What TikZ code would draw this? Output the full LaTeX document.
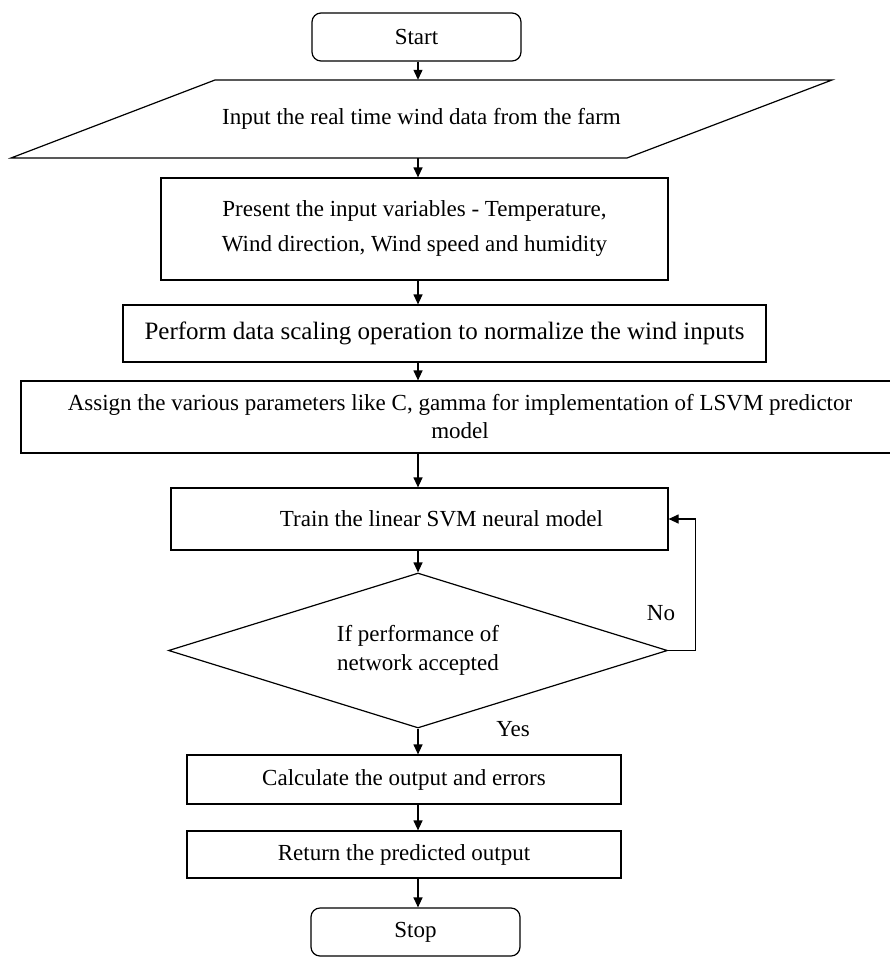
\documentclass[tikz,border=0pt]{standalone}
\usepackage{fontspec}
\setmainfont{Liberation Serif}
\usetikzlibrary{shapes.geometric, arrows.meta}

\begin{document}
\begin{tikzpicture}[x=1pt, y=-1pt, font=\fontsize{23}{35}\selectfont]
        \tikzstyle{term} = [draw, rectangle, rounded corners=9pt, line width=1.2pt, minimum width=209, minimum height=48]
        \tikzstyle{box} = [draw, rectangle, line width=1.2pt, align=center]
        \tikzstyle{decision} = [draw, diamond, aspect=3.2, inner sep=0pt, line width=1.2pt, minimum width=499, minimum height=155, align=center]
        \tikzstyle{flow} = [-{Triangle[length=10pt, width=9pt]}, line width=1.2pt]
        \clip (0,0) rectangle (890,958);
        \coordinate (col) at (418,0);
        \node[term] (start) at (416.5,37) {Start};
        % input parallelogram
        \node[minimum height=78] (input) at (421.5,119) {Input the real time wind data from the farm};
        \draw[line width=1.2pt] (215,80) -- (832,80) -- (627,158) -- (11,158) -- cycle;
        \node[box, minimum width=507, minimum height=102] (present) at (414.5,229) {Present the input variables - Temperature,\\Wind direction, Wind speed and humidity};
        \node[box, minimum width=643, minimum height=57, font=\fontsize{25}{30}\selectfont] (scale) at (444.5,333.5) {Perform data scaling operation to normalize the wind inputs};
        \node[box, minimum width=878, minimum height=72, font=\fontsize{23}{28}\selectfont] (assign) at (460,417) {Assign the various parameters like C, gamma for implementation of LSVM predictor\\model};
        \node[box, minimum width=497, minimum height=62] (train) at (419.5,519) {\hspace*{44pt}Train the linear SVM neural model};
        \node[decision, font=\fontsize{23}{29}\selectfont] (decide) at (418,650.5) {If performance of\\network accepted};
        \node[box, minimum width=434, minimum height=49] (calc) at (404,779.5) {Calculate the output and errors};
        \node[box, minimum width=434, minimum height=47] (ret) at (404,854.5) {Return the predicted output};
        \node[term] (stop) at (415.5,932) {Stop};
        \node (no) at (661,613) {No};
        \node (yes) at (513,729) {Yes};
        \path[flow]
        (start.south -| col) edge (input.north -| col)
        (input.south -| col) edge (present.north -| col)
        (present.south -| col) edge (scale.north -| col)
        (scale.south -| col) edge (assign.north -| col)
        (assign.south -| col) edge (train.north -| col)
        (train.south -| col) edge (decide.north)
        (decide.south) edge (calc.north -| col)
        (calc.south -| col) edge (ret.north -| col)
        (ret.south -| col) edge (stop.north -| col);
        \draw[flow] (decide.east) -- ++(27,0) |- (train.east);
    \end{tikzpicture}
\end{document}
